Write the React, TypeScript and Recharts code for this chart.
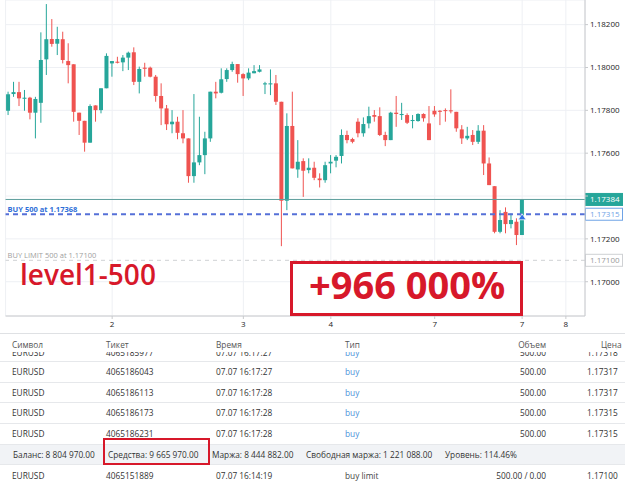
import React from "react";
import {
  ComposedChart,
  Bar,
  XAxis,
  YAxis,
  CartesianGrid,
  ReferenceLine,
  ReferenceDot,
} from "recharts";

// candles, left to right
const opens = [
  1.17798, 1.17876, 1.17885, 1.17854, 1.17859, 1.17789, 1.17835, 1.18038, 1.18133, 1.18111,
  1.18132, 1.1803, 1.18015, 1.17789, 1.17751, 1.17649, 1.17823, 1.17801, 1.17903, 1.18019,
  1.18027, 1.18024, 1.18046, 1.18071, 1.17933, 1.17999, 1.17999, 1.17957, 1.17867, 1.17809,
  1.17735, 1.17747, 1.17693, 1.17669, 1.17493, 1.17557, 1.17591, 1.17669, 1.17887, 1.17882,
  1.17946, 1.17988, 1.18016, 1.17969, 1.17949, 1.17973, 1.1798, 1.17921, 1.17921, 1.17926,
  1.1784, 1.17378, 1.17727, 1.17524, 1.17563, 1.17521, 1.17532, 1.17482, 1.17474, 1.17552,
  1.17565, 1.17587, 1.17685, 1.17666, 1.17747, 1.17693, 1.17739, 1.17778, 1.17773, 1.17685,
  1.17661, 1.17789, 1.17778, 1.17778, 1.1775, 1.1775, 1.17783, 1.17739, 1.17798, 1.17798,
  1.17801, 1.178, 1.17793, 1.17711, 1.17669, 1.17685, 1.17653, 1.17705, 1.17552, 1.17446,
  1.17233, 1.17326, 1.17269, 1.1728, 1.17218,
];
const highs = [
  1.17887, 1.17933, 1.17933, 1.17895, 1.17863, 1.17863, 1.18164, 1.18296, 1.18226, 1.1819,
  1.18167, 1.18113, 1.18015, 1.17789, 1.17751, 1.17828, 1.17823, 1.17903, 1.18066, 1.1803,
  1.1805, 1.18058, 1.18074, 1.18094, 1.18004, 1.18022, 1.18004, 1.17965, 1.17926, 1.17825,
  1.17801, 1.1777, 1.17801, 1.17669, 1.17876, 1.1777, 1.177, 1.17887, 1.17933, 1.17996,
  1.17996, 1.18027, 1.18016, 1.17973, 1.17996, 1.18011, 1.18011, 1.17933, 1.17991, 1.17965,
  1.1784, 1.17786, 1.17887, 1.17661, 1.17576, 1.17576, 1.1756, 1.17506, 1.1756, 1.17591,
  1.17591, 1.17711, 1.17705, 1.17672, 1.17763, 1.17767, 1.17817, 1.17801, 1.17814, 1.177,
  1.17793, 1.17867, 1.17835, 1.17786, 1.17778, 1.17786, 1.17786, 1.1782, 1.1782, 1.17801,
  1.17809, 1.17898, 1.17793, 1.17731, 1.17723, 1.17708, 1.17731, 1.17731, 1.1758, 1.17446,
  1.17334, 1.17347, 1.17319, 1.17296, 1.17384,
];
const lows = [
  1.17778, 1.17863, 1.1782, 1.17798, 1.17758, 1.17669, 1.17742, 1.17965, 1.18097, 1.18058,
  1.18019, 1.17926, 1.17747, 1.17685, 1.17607, 1.17649, 1.17747, 1.17786, 1.17903, 1.17957,
  1.18019, 1.17983, 1.17988, 1.17918, 1.17879, 1.17957, 1.17954, 1.1784, 1.17731, 1.17708,
  1.17693, 1.17665, 1.17646, 1.17462, 1.17462, 1.17544, 1.17502, 1.17653, 1.17856, 1.17879,
  1.17933, 1.1798, 1.17929, 1.17867, 1.17941, 1.17973, 1.17977, 1.17876, 1.17871, 1.17825,
  1.17166, 1.17334, 1.17529, 1.17485, 1.17396, 1.17506, 1.17474, 1.1744, 1.17462, 1.17506,
  1.17534, 1.17552, 1.17646, 1.17646, 1.17674, 1.17677, 1.17716, 1.17747, 1.1768, 1.17633,
  1.17661, 1.17723, 1.17755, 1.17736, 1.17716, 1.17747, 1.17747, 1.17661, 1.1777, 1.17731,
  1.17747, 1.17786, 1.177, 1.17643, 1.17661, 1.17638, 1.17643, 1.17498, 1.17451, 1.17226,
  1.17226, 1.17226, 1.17249, 1.17171, 1.17218,
];
const closes = [
  1.17875, 1.17885, 1.17856, 1.17859, 1.17789, 1.17853, 1.18035, 1.18132, 1.1811, 1.18133,
  1.18035, 1.18011, 1.17793, 1.17751, 1.17649, 1.1782, 1.17801, 1.17903, 1.18054, 1.1803,
  1.18022, 1.18046, 1.18069, 1.17933, 1.17993, 1.17994, 1.17957, 1.17867, 1.17809, 1.17735,
  1.17747, 1.17695, 1.17669, 1.17493, 1.17557, 1.17591, 1.17669, 1.17887, 1.17879, 1.17945,
  1.17988, 1.18016, 1.17969, 1.17949, 1.17976, 1.17983, 1.17991, 1.17926, 1.17926, 1.1784,
  1.17378, 1.17727, 1.17529, 1.1756, 1.17518, 1.17532, 1.17485, 1.17474, 1.17544, 1.1756,
  1.17583, 1.17685, 1.17661, 1.17653, 1.17693, 1.17736, 1.17773, 1.1777, 1.17685, 1.17661,
  1.17789, 1.17783, 1.17783, 1.17742, 1.17755, 1.17783, 1.17763, 1.17661, 1.17781, 1.17793,
  1.17797, 1.17797, 1.17716, 1.17669, 1.17681, 1.17653, 1.17705, 1.17552, 1.17451, 1.17233,
  1.17288, 1.17269, 1.17288, 1.17218, 1.17384,
];

const EMPTY_SLOTS = 11; // right margin of the chart
const yTicks = [1.17, 1.172, 1.174, 1.176, 1.178, 1.18, 1.182];
const xTickIdx = [19, 43, 59, 78, 94, 102];
const xTickLabels = ["2", "3", "4", "7", "7", "8"];

const lastPrice = 1.17384;
const avgPrice = 1.17315;
const limitPrice = 1.171;

const headers = ["Символ", "Тикет", "Время", "Тип", "Объем", "Цена"];
const hiddenRow = ["EURUSD", "4065185977", "07.07 16:17:27", "buy", "500.00", "1.17318"];
const positions = [
  ["EURUSD", "4065186043", "07.07 16:17:27", "buy", "500.00", "1.17317"],
  ["EURUSD", "4065186113", "07.07 16:17:28", "buy", "500.00", "1.17317"],
  ["EURUSD", "4065186173", "07.07 16:17:28", "buy", "500.00", "1.17315"],
  ["EURUSD", "4065186231", "07.07 16:17:28", "buy", "500.00", "1.17315"],
];
const summary = [
  "Баланс: 8 804 970.00",
  "Средства: 9 665 970.00",
  "Маржа: 8 444 882.00",
  "Свободная маржа: 1 221 088.00",
  "Уровень: 114.46%",
];
const orderRow = ["EURUSD", "4065151889", "07.07 16:14:19", "buy limit", "500.00 / 0.00", "1.17100"];

const GREEN = "#26a69a";
const RED = "#ef5350";
const BRAND = "#d7182a";

const data = Array.from({ length: opens.length + EMPTY_SLOTS }, (_, i) =>
  i < opens.length
    ? { i, o: opens[i], h: highs[i], l: lows[i], c: closes[i], range: [lows[i], highs[i]] }
    : { i }
);

const Candle = (props: any) => {
  const { x, y, width, height, payload } = props;
  if (!payload || payload.o == null) return null;
  const top = Math.min(y, y + height);
  const h = Math.abs(height);
  const span = payload.h - payload.l;
  const k = span > 0 ? h / span : 0;
  const yO = top + (payload.h - payload.o) * k;
  const yC = top + (payload.h - payload.c) * k;
  const color = payload.c >= payload.o ? GREEN : RED;
  const cx = x + width / 2;
  const bw = 4;
  return (
    <g>
      <line x1={cx} x2={cx} y1={top} y2={top + h} stroke={color} strokeWidth={1} />
      <rect
        x={cx - bw / 2}
        y={Math.min(yO, yC)}
        width={bw}
        height={Math.max(1, Math.abs(yC - yO))}
        fill={color}
      />
    </g>
  );
};

// price tag on the right axis + optional caption at the left of the line
const tag =
  (text: string, fill: string, stroke: string, color: string, caption?: string, capColor?: string, capBold?: boolean) =>
  (p: any) => {
    const vb = p.viewBox || {};
    const right = vb.x + vb.width;
    return (
      <g>
        {caption && (
          <text
            x={vb.x + 2}
            y={vb.y - 2.5}
            fontSize={7.5}
            fontWeight={capBold ? 700 : 400}
            fill={capColor}
            fontFamily="Open Sans"
          >
            {caption}
          </text>
        )}
        <rect x={right + 0.5} y={vb.y - 6} width={37} height={12} fill={fill} stroke={stroke} />
        <text x={right + 5} y={vb.y} dy="0.35em" fontSize={8} fill={color} fontFamily="Open Sans">
          {text}
        </text>
      </g>
    );
  };

const Row = ({ top, h, cells, bg, border = true }: any) => (
  <div
    style={{
      position: "absolute",
      left: 0,
      top,
      width: 625,
      height: h,
      background: bg || "#fff",
      borderBottom: border ? "1px solid #e6e8eb" : "none",
      boxSizing: "border-box",
    }}
  >
    {cells.map((c: any, k: number) => (
      <span
        key={k}
        style={{
          position: "absolute",
          top: 0,
          lineHeight: `${h}px`,
          left: c.left,
          right: c.right,
          color: c.color || "#333",
          whiteSpace: "nowrap",
        }}
      >
        {c.text}
      </span>
    ))}
  </div>
);

const colCells = (r: string[], typeColor: string, headerMode = false) => [
  { text: r[0], left: 12, color: headerMode ? "#555" : undefined },
  { text: r[1], left: 106, color: headerMode ? "#555" : undefined },
  { text: r[2], left: 216, color: headerMode ? "#555" : undefined },
  { text: r[3], left: 345, color: typeColor },
  { text: r[4], right: 625 - 546, color: headerMode ? "#555" : undefined },
  { text: r[5], left: headerMode ? 601 : 587, color: headerMode ? "#555" : undefined },
];

const summaryX = [13, 108, 212, 306, 445];

export default function App() {
  const rowH = 20.7;
  return (
    <div
      style={{
        position: "absolute",
        left: 0,
        top: 0,
        width: 625,
        height: 482,
        overflow: "hidden",
        background: "#fff",
        fontFamily: '"Open Sans", sans-serif',
        fontSize: 8.3,
      }}
    >
      <ComposedChart
        width={625}
        height={333}
        data={data}
        margin={{ top: 0, right: 0, bottom: 0, left: 5.57 }}
        barCategoryGap={0}
      >
        <CartesianGrid stroke="#eef0f4" />
        <XAxis
          dataKey="i"
          type="category"
          ticks={xTickIdx}
          interval={0}
          tickFormatter={(v: any) => xTickLabels[xTickIdx.indexOf(v)] ?? ""}
          height={17}
          tickSize={3}
          tickMargin={2}
          stroke="#c8cacd"
          tick={{ fontSize: 8, fill: "#222", fontFamily: "Open Sans" }}
        />
        <YAxis
          orientation="right"
          width={40}
          domain={[1.1684, 1.18315]}
          allowDataOverflow
          ticks={yTicks}
          interval={0}
          tickFormatter={(v: number) => (Math.abs(v - 1.174) < 1e-6 ? "" : v.toFixed(5))}
          tickSize={3}
          tickMargin={2}
          stroke="#c8cacd"
          tick={{ fontSize: 8, fill: "#222", fontFamily: "Open Sans" }}
        />
        <Bar dataKey="range" shape={(p: any) => <Candle {...p} />} isAnimationActive={false} />
        <ReferenceLine
          y={limitPrice}
          stroke="#cfd1d4"
          strokeDasharray="4 4"
          label={tag("1.17100", "#fff", "#cfd1d4", "#9a9a9a", "BUY LIMIT 500 at 1.17100", "#a0a0a0")}
        />
        <ReferenceLine
          y={avgPrice}
          stroke="#5570d8"
          strokeWidth={2}
          strokeDasharray="5 4"
          label={tag("1.17315", "#fff", "#6fa3e6", "#6fa3e6", "BUY 500 at 1.17368", "#2f6fd8", true)}
        />
        <ReferenceLine y={lastPrice} stroke="#5e9e9c" label={tag("1.17384", GREEN, GREEN, "#fff")} />
        <ReferenceDot
          x={94}
          y={1.17303}
          r={4}
          shape={(p: any) => (
            <path
              d={`M${p.cx - 4},${p.cy + 3} L${p.cx},${p.cy - 3} L${p.cx + 4},${p.cy + 3} Z`}
              fill="#2f6fe4"
              stroke="#fff"
              strokeWidth={0.8}
            />
          )}
        />
      </ComposedChart>

      <div
        style={{
          position: "absolute",
          left: 20,
          top: 261.7,
          fontSize: 28,
          lineHeight: "24px",
          fontWeight: 600,
          color: BRAND,
          whiteSpace: "nowrap",
        }}
      >
        level1-500
      </div>
      <div
        style={{
          position: "absolute",
          left: 290,
          top: 261,
          width: 233,
          height: 55,
          border: `3px solid ${BRAND}`,
          boxSizing: "border-box",
          background: "#fff",
        }}
      >
        <div
          style={{
            position: "absolute",
            left: 16,
            top: 1,
            fontSize: 38,
            lineHeight: "38px",
            fontWeight: 700,
            color: BRAND,
            whiteSpace: "nowrap",
          }}
        >
          +966 000%
        </div>
      </div>

      <div style={{ position: "absolute", left: 0, top: 333, width: 625, height: 1, background: "#dfe1e4" }} />
      <Row top={337} h={16} cells={colCells(headers, "#555", true)} border={false} />
      {/* row scrolled under the header: only the bottom of its glyphs shows */}
      <div style={{ position: "absolute", left: 0, top: 352, width: 625, height: 10, overflow: "hidden" }}>
        <Row top={-6.6} h={16.6} cells={colCells(hiddenRow, "#4a90d9")} />
      </div>
      {positions.map((r, k) => (
        <Row key={k} top={362 + k * rowH} h={rowH} cells={colCells(r, "#4a90d9")} />
      ))}
      <Row
        top={362 + 4 * rowH}
        h={rowH}
        bg="#f1f3f6"
        cells={summary.map((t, k) => ({ text: t, left: summaryX[k] }))}
      />
      <Row top={362 + 5 * rowH} h={rowH} cells={colCells(orderRow, "#444")} border={false} />
      <div
        style={{
          position: "absolute",
          left: 103,
          top: 438,
          width: 107,
          height: 27,
          border: `2px solid ${BRAND}`,
          boxSizing: "border-box",
        }}
      />
    </div>
  );
}
